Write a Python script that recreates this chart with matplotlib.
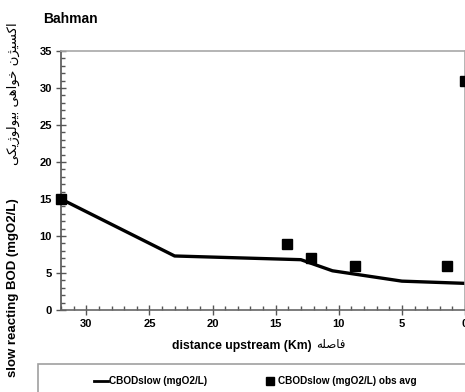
import matplotlib
matplotlib.use("Agg")
import matplotlib.pyplot as plt
from matplotlib import font_manager
from matplotlib.lines import Line2D
from matplotlib.patches import Rectangle
from matplotlib.ticker import MultipleLocator

# model profile (km upstream, mgO2/L)
model_km = [32, 23, 13, 10.5, 5, 0]
model_bod = [15.0, 7.3, 6.8, 5.3, 3.9, 3.6]

# observed averages
obs_km = [32, 14.1, 12.2, 8.7, 1.4, 0]
obs_bod = [15.0, 8.9, 7.0, 5.95, 5.95, 31.0]

title = "Bahman"
ylabel_en = "slow reacting BOD (mgO2/L)"
ylabel_fa = "اکسیژن خواهی بیولوژیکی"
xlabel_en = "distance upstream (Km)"
xlabel_fa = "فاصله"
legend_labels = ["CBODslow (mgO2/L)", "CBODslow (mgO2/L) obs avg"]

# Arabic presentation forms: isolated, final, initial, medial
FORMS = {
    "ا": "\uFE8D\uFE8E",
    "ب": "\uFE8F\uFE90\uFE91\uFE92",
    "خ": "\uFEA5\uFEA6\uFEA7\uFEA8",
    "س": "\uFEB1\uFEB2\uFEB3\uFEB4",
    "ص": "\uFEB9\uFEBA\uFEBB\uFEBC",
    "ف": "\uFED1\uFED2\uFED3\uFED4",
    "ل": "\uFEDD\uFEDE\uFEDF\uFEE0",
    "ن": "\uFEE5\uFEE6\uFEE7\uFEE8",
    "ه": "\uFEE9\uFEEA\uFEEB\uFEEC",
    "و": "\uFEED\uFEEE",
    "ژ": "\uFB8A\uFB8B",
    "ک": "\uFB8E\uFB8F\uFB90\uFB91",
    "ی": "\uFBFC\uFBFD\uFBFE\uFBFF",
}


def shape_fa(s):
    """Join Persian letters and return them in visual (left-to-right) order."""
    out = []
    for i, c in enumerate(s):
        f = FORMS.get(c)
        if f is None:
            out.append(c)
            continue
        prev = s[i - 1] if i > 0 else ""
        nxt = s[i + 1] if i + 1 < len(s) else ""
        jp = prev in FORMS and len(FORMS[prev]) == 4
        jn = len(f) == 4 and nxt in FORMS
        idx = 3 if (jp and jn) else 1 if jp else 2 if jn else 0
        out.append(f[idx])
    return "".join(reversed(out))


names = {f.name for f in font_manager.fontManager.ttflist}
NARROW = "Liberation Sans Narrow" if "Liberation Sans Narrow" in names else "Liberation Sans"
plt.rcParams["font.family"] = [NARROW, "DejaVu Sans"]
plt.rcParams["font.weight"] = "bold"

W, H = 465, 392
fig = plt.figure(figsize=(W / 100, H / 100), dpi=100)
ax = fig.add_axes([61 / W, 1 - 310 / H, 404 / W, 259 / H])

ax.plot(model_km, model_bod, color="black", lw=2.4, zorder=2, clip_on=False)
ax.plot(obs_km, obs_bod, ls="none", marker="s", ms=7.5, color="black",
        zorder=3, clip_on=False)

ax.set_xlim(32, 0)
ax.set_ylim(0, 35)
ax.xaxis.set_major_locator(MultipleLocator(5))
ax.xaxis.set_minor_locator(MultipleLocator(1))
ax.yaxis.set_major_locator(MultipleLocator(5))
ax.yaxis.set_minor_locator(MultipleLocator(1))
ax.tick_params(which="major", direction="inout", length=7, width=1,
               color="#555555", labelsize=8, pad=3)
ax.tick_params(which="minor", direction="in", length=3, width=1,
               color="#555555")
ax.tick_params(axis="x", which="both", top=False)
ax.tick_params(axis="y", which="both", right=False)
ax.xaxis.set_major_formatter(plt.FuncFormatter(lambda v, p: f"{v:.0f}"))

for side, col in [("left", "#555555"), ("bottom", "#666666"),
                  ("top", "#a8a8a8"), ("right", "#a8a8a8")]:
    ax.spines[side].set_color(col)
    ax.spines[side].set_linewidth(1.2)

fig.text(43 / W, 1 - 19 / H, title, fontsize=10, fontweight="bold",
         ha="left", va="center")

# y label: English part bottom, Persian part on top
fig.text(13 / W, 1 - 377 / H, ylabel_en, rotation=90, fontsize=9.5,
         fontweight="bold", ha="center", va="bottom")
fig.text(13 / W, 1 - 22 / H, shape_fa(ylabel_fa), rotation=90, fontsize=9.5,
         family="DejaVu Sans", fontweight="normal", ha="center", va="top")

# x label
fig.text(312 / W, 1 - 346 / H, xlabel_en, fontsize=8.8, fontweight="bold",
         ha="right", va="center")
fig.text(316 / W, 1 - 345 / H, shape_fa(xlabel_fa), fontsize=8.5,
         family="DejaVu Sans", fontweight="normal", ha="left", va="center")

# legend box runs off the bottom/right edge
fig.patches.append(Rectangle((38 / W, -0.2), 1.0, (1 - 364 / H) + 0.2,
                             transform=fig.transFigure, fill=False,
                             edgecolor="#a0a0a0", lw=1.2))
handles = [Line2D([], [], color="black", lw=2),
           Line2D([], [], ls="none", marker="s", ms=5.5, color="black")]
fig.legend(handles, legend_labels, loc="center left",
           bbox_to_anchor=(94 / W, 1 - 381 / H), ncol=2, frameon=False,
           fontsize=7.2, handlelength=1.4, handletextpad=0.1,
           columnspacing=5.6, borderaxespad=0, borderpad=0)

fig.savefig("out.png", dpi=100)
